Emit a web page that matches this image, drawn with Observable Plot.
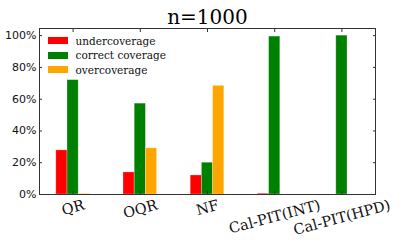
<!DOCTYPE html>
<html>
<head>
<meta charset="utf-8">
<script src="https://cdn.jsdelivr.net/npm/d3@7"></script>
<script src="https://cdn.jsdelivr.net/npm/@observablehq/plot@0.6"></script>
<style>
  html, body { margin: 0; padding: 0; background: #fff; }
  #wrap { position: relative; width: 399px; height: 249px; }
  #legend { position: absolute; left: 47.5px; top: 33.5px; font-family: "DejaVu Serif", serif; font-size: 10.5px; color: #111; }
  #legend .row { display: flex; align-items: center; height: 14.5px; }
  #legend .sw { width: 20px; height: 7px; margin-right: 8px; }
</style>
</head>
<body>
<div id="wrap"><div id="legend"></div></div>
<script>
const categories = ["QR", "OQR", "NF", "Cal-PIT(INT)", "Cal-PIT(HPD)"];
const seriesNames = ["undercoverage", "correct coverage", "overcoverage"];
const seriesColors = ["#ff0000", "#008000", "#ffa500"];
const undercoverage = [0.278, 0.139, 0.120, 0.005, 0.0];
const correctCoverage = [0.720, 0.572, 0.200, 0.994, 1.000];
const overcoverage = [0.003, 0.291, 0.684, 0.0, 0.0];
const yTicks = [0, 0.2, 0.4, 0.6, 0.8, 1.0];

const seriesValues = [undercoverage, correctCoverage, overcoverage];
const barW = 1 / 6;
const rows = [];
categories.forEach((c, i) => {
  seriesValues.forEach((vals, j) => {
    const x1 = i + (j - 1) * barW - barW / 2;
    rows.push({cat: c, series: seriesNames[j], x1, x2: x1 + barW, y: vals[i]});
  });
});

// measure label widths to place rotated labels like matplotlib (centered, top-aligned bbox)
const ctx = document.createElement("canvas").getContext("2d");
const xFont = 14.5;
ctx.font = `${xFont}px "DejaVu Serif"`;
const ang = 15 * Math.PI / 180;

const labelMarks = categories.map((c, i) => {
  const L = ctx.measureText(c).width;
  const half = (L * Math.sin(ang) + xFont * 0.9 * Math.cos(ang)) / 2;
  return Plot.text([c], {
    x: () => i, frameAnchor: "bottom", dy: 4 + half, text: d => d,
    rotate: -15, textAnchor: "middle", lineAnchor: "middle",
    fontSize: xFont, fontFamily: "DejaVu Serif", fill: "#111"
  });
});

const chart = Plot.plot({
  width: 399,
  height: 249,
  marginLeft: 39,
  marginRight: 24,
  marginTop: 28,
  marginBottom: 55,
  style: {fontFamily: "DejaVu Sans", background: "#fff"},
  x: {domain: [-0.5, 4.5], axis: null},
  y: {domain: [0, 1.045], axis: null},
  color: {domain: seriesNames, range: seriesColors},
  marks: [
    Plot.rect(rows, {x1: "x1", x2: "x2", y1: 0, y2: "y", fill: "series", stroke: "#fff", strokeOpacity: 0.35, strokeWidth: 0.8}),
    Plot.axisY({ticks: yTicks, anchor: "left", tickSize: 0, tickPadding: 3, tickFormat: d3.format(".0%"), fontSize: 11, fill: "#111", label: null}),
    Plot.axisY({ticks: yTicks, anchor: "left", tickSize: -3, tickFormat: () => "", label: null, stroke: "#333"}),
    Plot.axisY({ticks: yTicks, anchor: "right", tickSize: -3, tickFormat: () => "", label: null, stroke: "#333"}),
    Plot.axisX({ticks: [0, 1, 2, 3, 4], anchor: "top", tickSize: -3, tickFormat: () => "", label: null, stroke: "#333"}),
    Plot.axisX({ticks: [0, 1, 2, 3, 4], anchor: "bottom", tickSize: -3, tickFormat: () => "", label: null, stroke: "#333"}),
    Plot.frame({stroke: "#333", strokeWidth: 1}),
    ...labelMarks,
    Plot.text(["n=1000"], {frameAnchor: "top", dy: -5, lineAnchor: "bottom", text: d => d, fontSize: 20, fontFamily: "DejaVu Serif", fill: "#000"})
  ]
});
document.getElementById("wrap").prepend(chart);

const legend = document.getElementById("legend");
seriesNames.forEach((n, j) => {
  const row = document.createElement("div");
  row.className = "row";
  const sw = document.createElement("div");
  sw.className = "sw";
  sw.style.background = seriesColors[j];
  const t = document.createElement("span");
  t.textContent = n;
  row.append(sw, t);
  legend.append(row);
});
</script>
</body>
</html>
